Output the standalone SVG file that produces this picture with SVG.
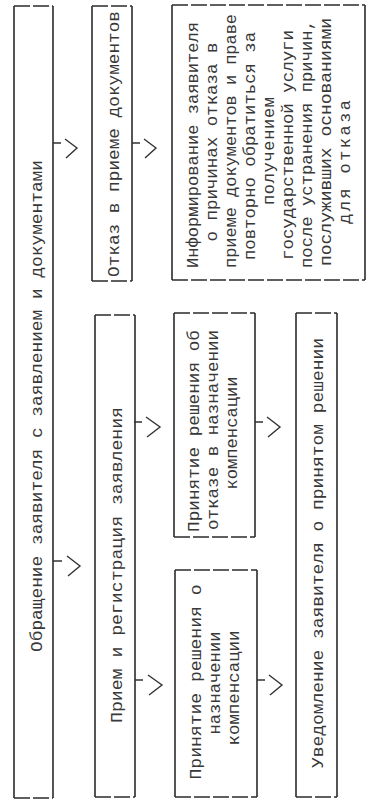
<svg xmlns="http://www.w3.org/2000/svg" width="368" height="802" viewBox="0 0 368 802">
<style>
.side{fill:none;stroke:#2b2b2b;stroke-width:1.6}
.cap{fill:none;stroke:#2b2b2b;stroke-width:1.6;stroke-dasharray:16 3}
.t{font-family:"Liberation Mono","DejaVu Sans Mono",monospace;font-size:17px;fill:#383838;text-anchor:middle}
.conn path{fill:none;stroke:#333;stroke-width:1.4}
</style>
<rect x="0" y="0" width="368" height="802" fill="#ffffff"/>
<g id="n1">
<path class="side" d="M14 6V798M53 6V798"/>
<path class="cap" d="M14 6H53M14 798H53"/>
<text class="t" transform="translate(42,406) rotate(-90)" textLength="492" lengthAdjust="spacingAndGlyphs">Обращение заявителя с заявлением и документами</text>
</g>
<g id="n2">
<path class="side" d="M95 315V797M135 315V797"/>
<path class="cap" d="M95 315H135M95 797H135"/>
<text class="t" transform="translate(122,565) rotate(-90)" textLength="316" lengthAdjust="spacingAndGlyphs">Прием и регистрация заявления</text>
</g>
<g id="n3">
<path class="side" d="M92 6V281M132 6V281"/>
<path class="cap" d="M92 6H132M92 281H132"/>
<text class="t" transform="translate(119,144) rotate(-90)" textLength="266" lengthAdjust="spacingAndGlyphs">Отказ в приеме документов</text>
</g>
<g id="n4">
<path class="side" d="M172 5V280M365 5V280"/>
<path class="cap" d="M172 5H365M172 280H365"/>
<text class="t" transform="translate(198,145) rotate(-90)" textLength="246" lengthAdjust="spacingAndGlyphs">Информирование заявителя</text>
<text class="t" transform="translate(217,142) rotate(-90)" textLength="199" lengthAdjust="spacingAndGlyphs">о причинах отказа в</text>
<text class="t" transform="translate(236,141) rotate(-90)" textLength="254" lengthAdjust="spacingAndGlyphs">приеме документов и праве</text>
<text class="t" transform="translate(255,146) rotate(-90)" textLength="228" lengthAdjust="spacingAndGlyphs">повторно обратиться за</text>
<text class="t" transform="translate(274,151) rotate(-90)" textLength="108" lengthAdjust="spacing">получением</text>
<text class="t" transform="translate(293,145) rotate(-90)" textLength="230" lengthAdjust="spacingAndGlyphs">государственной услуги</text>
<text class="t" transform="translate(312,144) rotate(-90)" textLength="248" lengthAdjust="spacingAndGlyphs">после устранения причин,</text>
<text class="t" transform="translate(331,142) rotate(-90)" textLength="248" lengthAdjust="spacingAndGlyphs">послуживших основаниями</text>
<text class="t" transform="translate(350,162) rotate(-90)" textLength="124" lengthAdjust="spacing">для отказа</text>
</g>
<g id="n5">
<path class="side" d="M174 313V537M255 313V537"/>
<path class="cap" d="M174 313H255M174 537H255"/>
<text class="t" transform="translate(199,431) rotate(-90)" textLength="202" lengthAdjust="spacingAndGlyphs">Принятие решения об</text>
<text class="t" transform="translate(218,430) rotate(-90)" textLength="200" lengthAdjust="spacingAndGlyphs">отказе в назначении</text>
<text class="t" transform="translate(237,433) rotate(-90)" textLength="113" lengthAdjust="spacingAndGlyphs">компенсации</text>
</g>
<g id="n6">
<path class="side" d="M175 570V797M257 570V797"/>
<path class="cap" d="M175 570H257M175 797H257"/>
<text class="t" transform="translate(201,682) rotate(-90)" textLength="195" lengthAdjust="spacingAndGlyphs">Принятие решения о</text>
<text class="t" transform="translate(220,683) rotate(-90)" textLength="103" lengthAdjust="spacingAndGlyphs">назначении</text>
<text class="t" transform="translate(239,688) rotate(-90)" textLength="115" lengthAdjust="spacingAndGlyphs">компенсации</text>
</g>
<g id="n7">
<path class="side" d="M296 313V797M337 313V797"/>
<path class="cap" d="M296 313H337M296 797H337"/>
<text class="t" transform="translate(323,553) rotate(-90)" textLength="430" lengthAdjust="spacingAndGlyphs">Уведомление заявителя о принятом решении</text>
</g>
<g id="connectors" class="conn">
<path d="M53 143H61M65 139L77 148L66 158"/>
<path d="M132 143H140M144 139L156 148L145 158"/>
<path d="M53 561H62M67 556L80 566L68 576"/>
<path d="M134 422H142M146 417L160 427L147 437"/>
<path d="M255 422H263M267 417L280 427L268 437"/>
<path d="M135 680H143M148 675L162 685L149 695"/>
<path d="M257 680H265M269 675L282 685L270 695"/>
</g>
</svg>
